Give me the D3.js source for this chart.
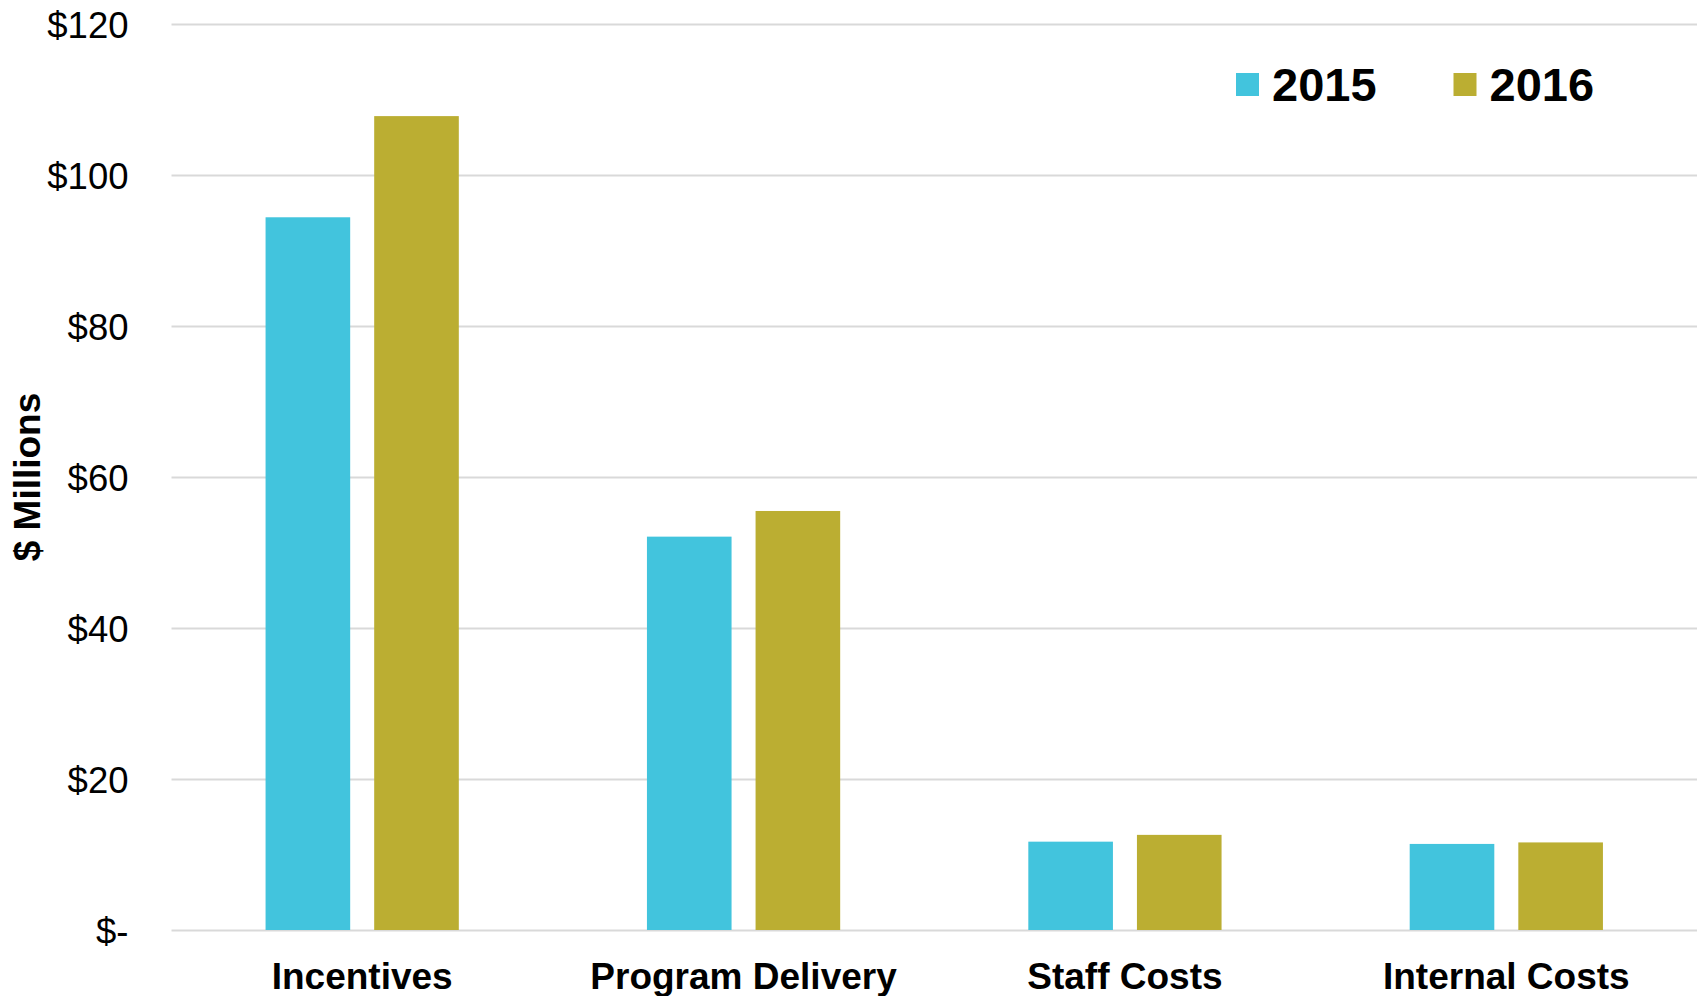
<!DOCTYPE html>
<html>
<head>
<meta charset="utf-8">
<script src="https://cdn.jsdelivr.net/npm/d3@7"></script>
<style>
  body { margin: 0; background: #fff; }
  svg text { font-family: "Liberation Sans", Arial, sans-serif; fill: #000; }
</style>
</head>
<body>
<div id="chart"></div>
<script>
// chart data
const categories = ["Incentives", "Program Delivery", "Staff Costs", "Internal Costs"];
const seriesNames = ["2015", "2016"];
const values2015 = [94.4, 52.1, 11.7, 11.4];
const values2016 = [107.8, 55.5, 12.6, 11.6];
const yTicks = [0, 20, 40, 60, 80, 100, 120];
const colors = ["#42C4DD", "#BBAE32"];

const width = 1702;
const height = 996;
const margin = {top: 24, right: 5, bottom: 66, left: 171.5};

const svg = d3.select("#chart").append("svg")
    .attr("width", width)
    .attr("height", height);

const x0 = d3.scaleBand()
    .domain(categories)
    .range([margin.left, width - margin.right])
    .paddingInner(0)
    .paddingOuter(0);

const x1 = d3.scaleBand()
    .domain(seriesNames)
    .range([0, x0.bandwidth()])
    .paddingInner(0.221)
    .paddingOuter(0.866);

const y = d3.scaleLinear()
    .domain([0, 120])
    .range([height - margin.bottom, margin.top]);

// gridlines + tick labels
const yAxis = svg.append("g")
    .attr("transform", `translate(${margin.left},0)`)
    .call(d3.axisLeft(y)
        .tickValues(yTicks)
        .tickSize(-(width - margin.right - margin.left))
        .tickPadding(43)
        .tickFormat(d => d === 0 ? "$-" : "$" + d));

yAxis.select(".domain").remove();
yAxis.selectAll(".tick line")
    .attr("stroke", "#d9d9d9")
    .attr("stroke-width", 2);
yAxis.selectAll(".tick text")
    .attr("font-size", 36.5)
    .attr("dy", "0.36em");

// bars
const rows = categories.map((c, i) => ({cat: c, vals: [values2015[i], values2016[i]]}));

const groups = svg.append("g")
    .selectAll("g")
    .data(rows)
    .join("g")
    .attr("transform", d => `translate(${x0(d.cat)},0)`);

groups.selectAll("rect")
    .data(d => d.vals.map((v, j) => ({series: seriesNames[j], value: v, j: j})))
    .join("rect")
    .attr("x", d => x1(d.series))
    .attr("width", x1.bandwidth())
    .attr("y", d => y(d.value))
    .attr("height", d => y(0) - y(d.value))
    .attr("fill", d => colors[d.j]);

// category labels
svg.append("g")
    .selectAll("text")
    .data(categories)
    .join("text")
    .attr("x", d => x0(d) + x0.bandwidth() / 2)
    .attr("y", 989)
    .attr("text-anchor", "middle")
    .attr("font-size", 37)
    .attr("font-weight", "bold")
    .text(d => d);

// y axis title
svg.append("text")
    .attr("transform", `translate(40,${(y(0) + y(120)) / 2}) rotate(-90)`)
    .attr("text-anchor", "middle")
    .attr("font-size", 37)
    .attr("font-weight", "bold")
    .text("$ Millions");

// legend
const legendX = [1236, 1453.5];
const legend = svg.append("g")
    .selectAll("g")
    .data(seriesNames)
    .join("g")
    .attr("transform", (d, i) => `translate(${legendX[i]},73)`);

legend.append("rect")
    .attr("width", 23)
    .attr("height", 23)
    .attr("fill", (d, i) => colors[i]);

legend.append("text")
    .attr("x", 36)
    .attr("y", 28)
    .attr("font-size", 47)
    .attr("font-weight", "bold")
    .text(d => d);
</script>
</body>
</html>
